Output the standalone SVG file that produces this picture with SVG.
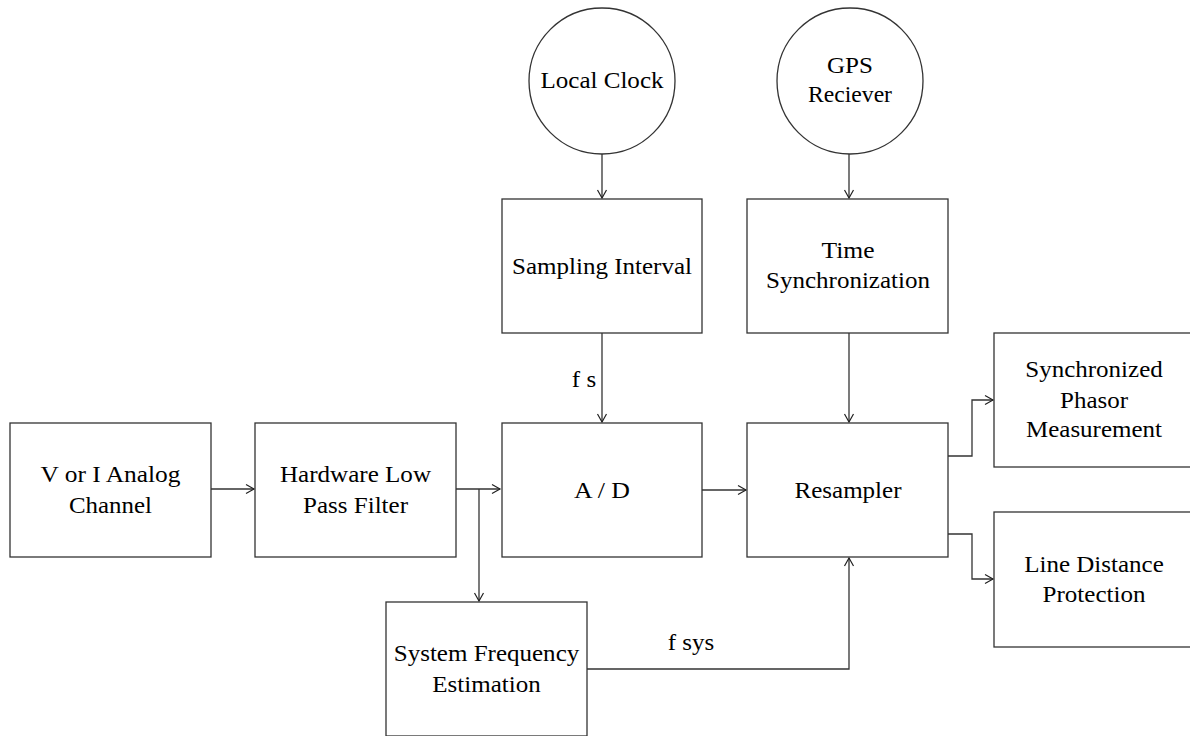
<svg xmlns="http://www.w3.org/2000/svg" width="1190" height="736" viewBox="0 0 1190 736">
<style>
.box{fill:#fff;stroke:#333;stroke-width:1.3}
.c{fill:none;stroke:#333;stroke-width:1.3}
text{font-family:"Liberation Serif","DejaVu Serif",serif;font-size:22.5px;text-anchor:middle;fill:#000}
</style>
<defs>
<marker id="arr" markerWidth="12" markerHeight="12" refX="9" refY="6" orient="auto" markerUnits="userSpaceOnUse">
<path d="M1,1.5 L9,6 L1,10.5" fill="none" stroke="#222" stroke-width="1.2"/>
</marker>
</defs>
<rect width="1190" height="736" fill="#fff"/>
<g id="connectors">
<path class="c" d="M602,154 V198" marker-end="url(#arr)"/>
<path class="c" d="M849,154 V198" marker-end="url(#arr)"/>
<path class="c" d="M602,333 V422" marker-end="url(#arr)"/>
<path class="c" d="M849,333 V422" marker-end="url(#arr)"/>
<path class="c" d="M211,489 H254" marker-end="url(#arr)"/>
<path class="c" d="M456,489 H500" marker-end="url(#arr)"/>
<path class="c" d="M479,489 V601" marker-end="url(#arr)"/>
<path class="c" d="M702,490 H746" marker-end="url(#arr)"/>
<path class="c" d="M587,669 H849 V558" marker-end="url(#arr)"/>
<path class="c" d="M948,456 H972 V400 H993" marker-end="url(#arr)"/>
<path class="c" d="M948,534 H972 V579 H993" marker-end="url(#arr)"/>
<text x="584" y="387" textLength="24.3" lengthAdjust="spacingAndGlyphs">f s</text>
<text x="691" y="650" textLength="46.5" lengthAdjust="spacingAndGlyphs">f sys</text>
</g>
<g id="local-clock">
<circle class="box" cx="602" cy="81" r="73"/>
<text x="602" y="88" textLength="123" lengthAdjust="spacingAndGlyphs">Local Clock</text>
</g>
<g id="gps">
<circle class="box" cx="850" cy="81" r="73"/>
<text x="850" y="73" textLength="46" lengthAdjust="spacingAndGlyphs">GPS</text>
<text x="850" y="102" textLength="84" lengthAdjust="spacingAndGlyphs">Reciever</text>
</g>
<g id="sampling">
<rect class="box" x="502" y="199" width="200" height="134"/>
<text x="602" y="274" textLength="180" lengthAdjust="spacingAndGlyphs">Sampling Interval</text>
</g>
<g id="timesync">
<rect class="box" x="747" y="199" width="201" height="134"/>
<text x="848" y="258" textLength="53" lengthAdjust="spacingAndGlyphs">Time</text>
<text x="848" y="288" textLength="164" lengthAdjust="spacingAndGlyphs">Synchronization</text>
</g>
<g id="analog">
<rect class="box" x="10" y="423" width="201" height="134"/>
<text x="110.5" y="482" textLength="140" lengthAdjust="spacingAndGlyphs">V or I Analog</text>
<text x="110.5" y="513" textLength="83" lengthAdjust="spacingAndGlyphs">Channel</text>
</g>
<g id="lpf">
<rect class="box" x="255" y="423" width="201" height="134"/>
<text x="355.5" y="482" textLength="151" lengthAdjust="spacingAndGlyphs">Hardware Low</text>
<text x="355.5" y="513" textLength="105" lengthAdjust="spacingAndGlyphs">Pass Filter</text>
</g>
<g id="ad">
<rect class="box" x="502" y="423" width="200" height="134"/>
<text x="602" y="498" textLength="56" lengthAdjust="spacingAndGlyphs">A / D</text>
</g>
<g id="resampler">
<rect class="box" x="747" y="423" width="201" height="134"/>
<text x="848" y="498" textLength="107" lengthAdjust="spacingAndGlyphs">Resampler</text>
</g>
<g id="phasor">
<rect class="box" x="994" y="333" width="201" height="134"/>
<text x="1094" y="377" textLength="137.5" lengthAdjust="spacingAndGlyphs">Synchronized</text>
<text x="1094" y="408" textLength="68" lengthAdjust="spacingAndGlyphs">Phasor</text>
<text x="1094" y="437" textLength="136" lengthAdjust="spacingAndGlyphs">Measurement</text>
</g>
<g id="distance">
<rect class="box" x="994" y="512" width="201" height="135"/>
<text x="1094" y="572" textLength="139.6" lengthAdjust="spacingAndGlyphs">Line Distance</text>
<text x="1094" y="602" textLength="103" lengthAdjust="spacingAndGlyphs">Protection</text>
</g>
<g id="sysfreq">
<rect class="box" x="386" y="602" width="201" height="134"/>
<text x="486.5" y="661" textLength="185.5" lengthAdjust="spacingAndGlyphs">System Frequency</text>
<text x="486.5" y="692" textLength="108.4" lengthAdjust="spacingAndGlyphs">Estimation</text>
</g>
</svg>
